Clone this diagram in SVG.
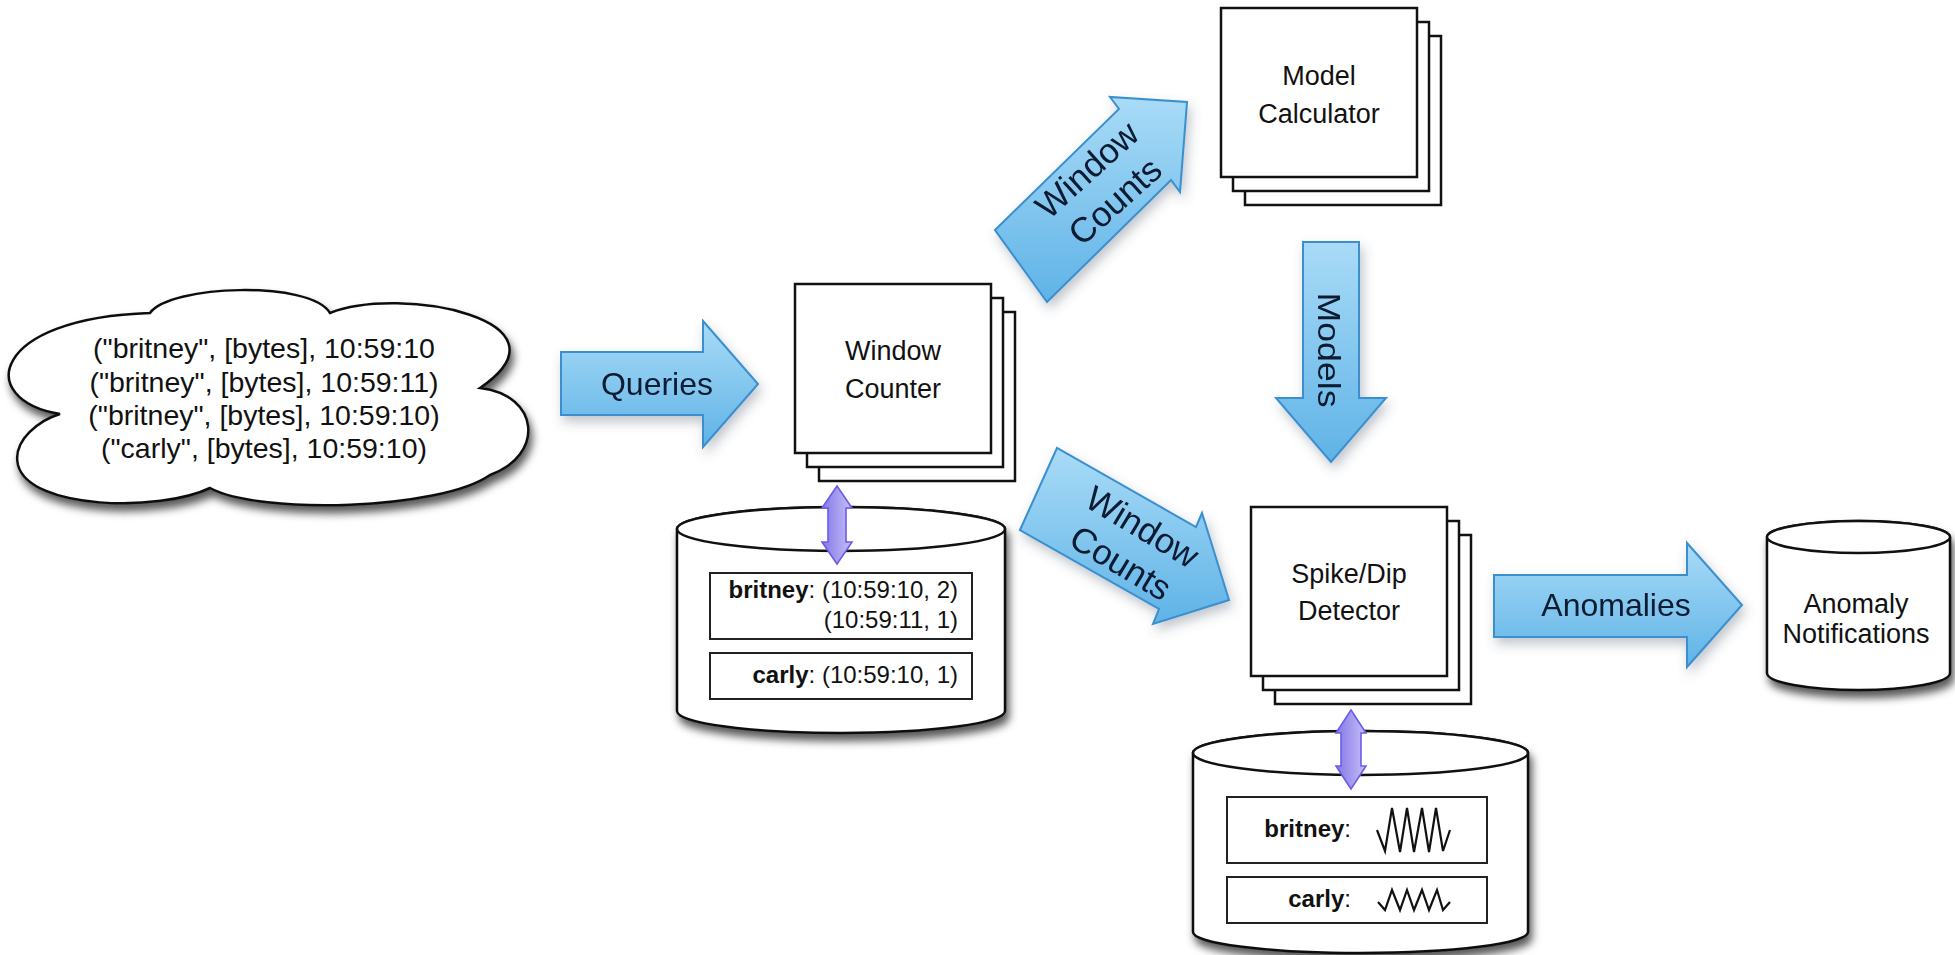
<svg xmlns="http://www.w3.org/2000/svg" width="1955" height="955" viewBox="0 0 1955 955">
  <defs>
    <style>
      text { font-family: "Liberation Sans", Arial, Helvetica, sans-serif; fill: #111; }
      .box { fill: #fff; stroke: #111; stroke-width: 2.5; }
      .db { fill: #fff; stroke: #111; stroke-width: 2.5; }
      .inner { fill: #fff; stroke: #222; stroke-width: 2; }
      .flow { fill: url(#blueFill); stroke: #3a8fcf; stroke-width: 2; }
      .link { fill: url(#purpleFill); stroke: #6b5de6; stroke-width: 1.6; }
      .node-label { font-size: 27px; text-anchor: middle; }
      .flow-label { font-size: 32px; text-anchor: middle; fill: #0b1a30; }
      .diag-label { font-size: 35px; text-anchor: middle; fill: #0b1a30; }
      .rec { font-size: 24px; text-anchor: end; }
      .cloud-text { font-size: 28.5px; text-anchor: middle; }
      .spark { fill: none; stroke: #111; stroke-width: 2.2; stroke-linejoin: miter; }
    </style>
    <linearGradient id="blueFill" x1="0" y1="0" x2="0" y2="1">
      <stop offset="0" stop-color="#a9dbf7"/>
      <stop offset="1" stop-color="#5fb3e7"/>
    </linearGradient>
    <linearGradient id="purpleFill" x1="0" y1="0" x2="1" y2="0">
      <stop offset="0" stop-color="#8577e6"/>
      <stop offset="1" stop-color="#c6bff8"/>
    </linearGradient>
    <filter id="heavyShadow" x="-10%" y="-10%" width="125%" height="135%">
      <feDropShadow dx="3" dy="7" stdDeviation="4" flood-color="#000" flood-opacity="0.65"/>
    </filter>
    <filter id="softShadow" x="-20%" y="-20%" width="150%" height="150%">
      <feDropShadow dx="3" dy="6" stdDeviation="6" flood-color="#4a5a6a" flood-opacity="0.35"/>
    </filter>
  </defs>

  <rect width="1955" height="955" fill="#fff"/>

  <!-- incoming query stream -->
  <g id="query-cloud">
    <path class="box" filter="url(#heavyShadow)" d="M60,414 C-25,400 -10,318 150,313 C170,285 310,280 330,313 C400,285 580,320 480,388 C540,395 545,455 490,475 C440,510 260,515 210,488 C160,512 30,510 18,465 C12,440 40,420 60,414 Z"/>
    <text class="cloud-text" x="264" y="358">("britney", [bytes], 10:59:10</text>
    <text class="cloud-text" x="264" y="392">("britney", [bytes], 10:59:11)</text>
    <text class="cloud-text" x="264" y="425">("britney", [bytes], 10:59:10)</text>
    <text class="cloud-text" x="264" y="458">("carly", [bytes], 10:59:10)</text>
  </g>

  <!-- window counter workers -->
  <g id="window-counter">
    <rect class="box" x="819" y="312" width="196" height="169"/>
    <rect class="box" x="807" y="298" width="196" height="169"/>
    <rect class="box" x="795" y="284" width="196" height="169"/>
    <text class="node-label" x="893" y="360">Window</text>
    <text class="node-label" x="893" y="398">Counter</text>
  </g>

  <!-- model calculator workers -->
  <g id="model-calculator">
    <rect class="box" x="1245" y="36" width="196" height="169"/>
    <rect class="box" x="1233" y="22" width="196" height="169"/>
    <rect class="box" x="1221" y="8" width="196" height="169"/>
    <text class="node-label" x="1319" y="85">Model</text>
    <text class="node-label" x="1319" y="123">Calculator</text>
  </g>

  <!-- spike/dip detector workers -->
  <g id="spike-dip-detector">
    <rect class="box" x="1275" y="535" width="196" height="169"/>
    <rect class="box" x="1263" y="521" width="196" height="169"/>
    <rect class="box" x="1251" y="507" width="196" height="169"/>
    <text class="node-label" x="1349" y="583">Spike/Dip</text>
    <text class="node-label" x="1349" y="620">Detector</text>
  </g>

  <!-- window count store -->
  <g id="count-store">
    <path class="db" filter="url(#heavyShadow)" d="M677,529 L677,711 A164,22 0 0 0 1005,711 L1005,529 A164,22 0 0 0 677,529 Z"/>
    <ellipse class="db" cx="841" cy="529" rx="164" ry="22"/>
    <rect class="inner" x="710" y="573" width="262" height="66"/>
    <rect class="inner" x="710" y="653" width="262" height="46"/>
    <text class="rec" x="958" y="598"><tspan font-weight="bold">britney</tspan>: (10:59:10, 2)</text>
    <text class="rec" x="958" y="628">(10:59:11, 1)</text>
    <text class="rec" x="958" y="683"><tspan font-weight="bold">carly</tspan>: (10:59:10, 1)</text>
  </g>

  <!-- model store -->
  <g id="model-store">
    <path class="db" filter="url(#heavyShadow)" d="M1193,753 L1193,932 A167.5,21 0 0 0 1528,932 L1528,753 A167.5,22 0 0 0 1193,753 Z"/>
    <ellipse class="db" cx="1360.5" cy="753" rx="167.5" ry="22"/>
    <rect class="inner" x="1227" y="797" width="260" height="66"/>
    <rect class="inner" x="1227" y="877" width="260" height="46"/>
    <text class="rec" x="1351" y="837"><tspan font-weight="bold">britney</tspan>:</text>
    <path class="spark" d="M1377,830 L1385,851 L1392,808 L1400,852 L1407,808 L1414,852 L1422,808 L1429,852 L1436,808 L1443,851 L1450,830"/>
    <text class="rec" x="1351" y="907"><tspan font-weight="bold">carly</tspan>:</text>
    <path class="spark" d="M1378,902 L1385,910 L1392,890 L1400,910 L1407,890 L1414,910 L1422,890 L1429,910 L1437,890 L1443,910 L1450,902"/>
  </g>

  <!-- notification sink -->
  <g id="anomaly-notifications">
    <path class="db" filter="url(#heavyShadow)" d="M1767,537 L1767,673 A91.5,17 0 0 0 1950,673 L1950,537 A91.5,16 0 0 0 1767,537 Z"/>
    <ellipse class="db" cx="1858.5" cy="537" rx="91.5" ry="16"/>
    <text class="node-label" x="1856" y="613">Anomaly</text>
    <text class="node-label" x="1856" y="643">Notifications</text>
  </g>

  <!-- data flows, drawn last so they sit on top of the stores -->
  <g id="connectors">
    <g id="flow-queries" filter="url(#softShadow)">
      <polygon class="flow" points="561,352 703,352 703,321 758,384 703,447 703,415 561,415"/>
      <text class="flow-label" x="657" y="395">Queries</text>
    </g>
    <g id="flow-window-counts-up" filter="url(#softShadow)">
      <polygon class="flow" points="995,230 1119,109 1110,97 1187,102 1180,192 1171,180 1047,302"/>
      <g transform="translate(1101,185.5) rotate(-42)">
        <text class="diag-label" x="0" y="-9">Window</text>
        <text class="diag-label" x="0" y="33">Counts</text>
      </g>
    </g>
    <g id="flow-window-counts-down" filter="url(#softShadow)">
      <polygon class="flow" points="1020,530 1057,448 1196,527 1202,513 1229,600 1153,624 1159,609"/>
      <g transform="translate(1131.5,545) rotate(31)">
        <text class="diag-label" x="0" y="-9">Window</text>
        <text class="diag-label" x="0" y="33">Counts</text>
      </g>
    </g>
    <g id="flow-models" filter="url(#softShadow)">
      <polygon class="flow" points="1303,242 1359,242 1359,398 1386,398 1331,462 1276,398 1303,398"/>
      <text class="flow-label" font-size="25" x="0" y="0" transform="translate(1318,350) rotate(90)" textLength="115" lengthAdjust="spacingAndGlyphs">Models</text>
    </g>
    <g id="flow-anomalies" filter="url(#softShadow)">
      <polygon class="flow" points="1494,575 1687,575 1687,543 1742,605 1687,667 1687,637 1494,637"/>
      <text class="flow-label" x="1616" y="616">Anomalies</text>
    </g>
    <!-- state read/write links -->
    <polygon id="link-counter-store" class="link" points="837,486 852,508 846,508 846,542 852,542 837,564 822,542 828,542 828,508 822,508"/>
    <polygon id="link-detector-store" class="link" points="1351,710 1366,733 1361,733 1361,766 1366,766 1351,789 1336,766 1341,766 1341,733 1336,733"/>
  </g>
</svg>
